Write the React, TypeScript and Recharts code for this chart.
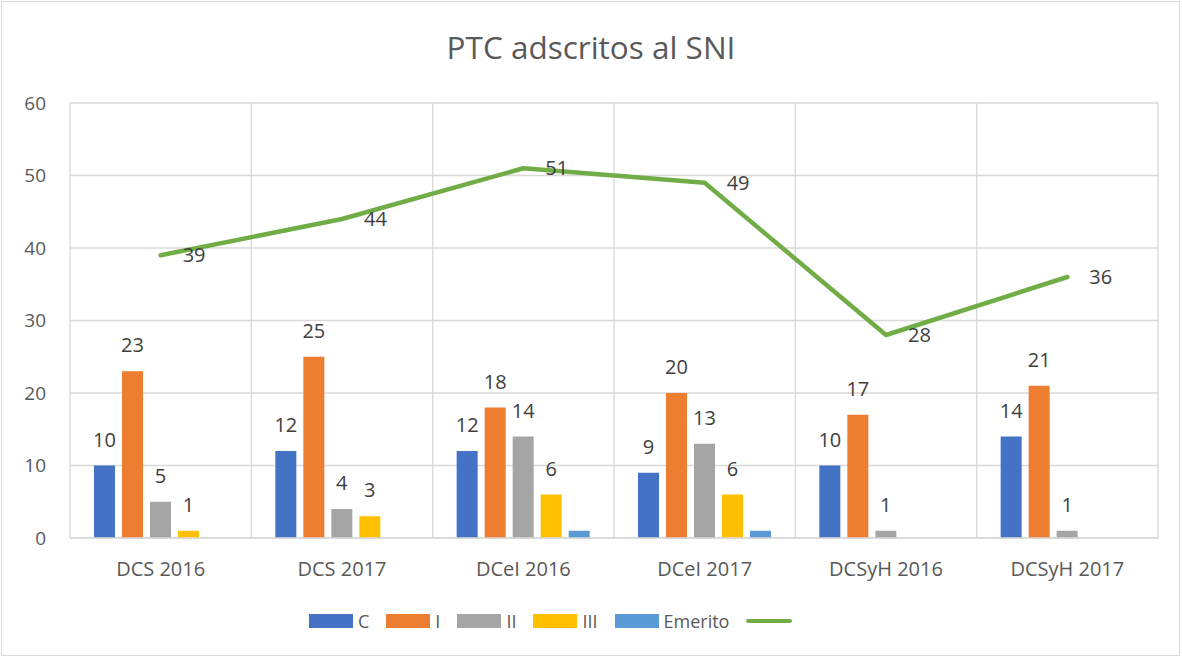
import React from 'react';
import { ComposedChart, Bar, Line, XAxis, YAxis, CartesianGrid, Legend, LabelList } from 'recharts';

const categories = ['DCS 2016', 'DCS 2017', 'DCeI 2016', 'DCeI 2017', 'DCSyH 2016', 'DCSyH 2017'];
const seriesC = [10, 12, 12, 9, 10, 14];
const seriesI = [23, 25, 18, 20, 17, 21];
const seriesII = [5, 4, 14, 13, 1, 1];
const seriesIII = [1, 3, 6, 6, 0, 0];
const seriesEmerito = [0, 0, 1, 1, 0, 0];
const totals = [39, 44, 51, 49, 28, 36];
const yTicks = [0, 10, 20, 30, 40, 50, 60];
const legendOrder = ['C', 'I', 'II', 'III', 'Emerito', 'total'];

const data = categories.map((name, i) => ({
  name,
  C: seriesC[i],
  I: seriesI[i],
  II: seriesII[i],
  III: seriesIII[i],
  Emerito: seriesEmerito[i],
  total: totals[i],
}));

const FONT = '"Open Sans", sans-serif';
const TXT = '#595959';
const LBL = '#404040';

const hideZero = (v: any) => (v === 0 ? '' : v);

const renderLegend = (props: any) => {
  const payload = [...(props.payload || [])].sort(
    (a: any, b: any) => legendOrder.indexOf(a.dataKey) - legendOrder.indexOf(b.dataKey)
  );
  return (
    <div style={{ display: 'flex', alignItems: 'center', paddingLeft: 299, height: 40, fontFamily: FONT, fontSize: 18, color: TXT }}>
      {payload.map((p: any, i: number) => (
        <div key={i} style={{ display: 'flex', alignItems: 'center', marginRight: 17 }}>
          {p.type === 'line' ? (
            <div style={{ width: 46, height: 4, borderRadius: 2, background: p.color }} />
          ) : (
            <div style={{ width: 44, height: 14, background: p.color }} />
          )}
          {p.value ? <span style={{ marginLeft: 5 }}>{p.value}</span> : null}
        </div>
      ))}
    </div>
  );
};

export default function App() {
  return (
    <div style={{ position: 'absolute', left: 0, top: 0, width: 1182, height: 658, background: '#fff' }}>
      <div style={{ position: 'absolute', left: 1, top: 1, width: 1177, height: 653, border: '1px solid #d9d9d9' }} />
      <div style={{ position: 'absolute', left: 0, top: 25, width: 1182, textAlign: 'center', fontFamily: FONT, fontSize: 31.5, color: TXT }}>
        PTC adscritos al SNI
      </div>
      <div style={{ position: 'absolute', left: 0, top: 0 }}>
        <ComposedChart
          width={1182}
          height={658}
          data={data}
          margin={{ top: 103, right: 24, left: 10, bottom: 17 }}
          barCategoryGap={24}
          barGap={7}
        >
          <CartesianGrid
            stroke="#d9d9d9"
            strokeWidth={1.3}
            verticalCoordinatesGenerator={(args: any) => {
              const off = args.offset || {};
              const left = off.left ?? 70;
              const w = off.width ?? 1088;
              return categories.map((_, i) => left + (i * w) / categories.length).concat([left + w]);
            }}
          />
          <XAxis
            dataKey="name"
            height={63}
            axisLine={{ stroke: '#d9d9d9', strokeWidth: 1.3 }}
            tickLine={false}
            tickSize={0}
            tickMargin={24}
            tick={{ fontFamily: FONT, fontSize: 20, fill: TXT }}
          />
          <YAxis
            width={60}
            domain={[0, 60]}
            ticks={yTicks}
            axisLine={false}
            tickLine={false}
            tickSize={0}
            tickMargin={24}
            tick={{ fontFamily: FONT, fontSize: 19, fill: TXT }}
          />
          <Legend verticalAlign="bottom" content={renderLegend} wrapperStyle={{ height: 40 }} />
          <Bar dataKey="C" name="C" fill="#4472C4" isAnimationActive={false}>
            <LabelList dataKey="C" position="top" offset={19} formatter={hideZero} style={{ fontFamily: FONT, fontSize: 20, fill: LBL }} />
          </Bar>
          <Bar dataKey="I" name="I" fill="#ED7D31" isAnimationActive={false}>
            <LabelList dataKey="I" position="top" offset={19} formatter={hideZero} style={{ fontFamily: FONT, fontSize: 20, fill: LBL }} />
          </Bar>
          <Bar dataKey="II" name="II" fill="#A5A5A5" isAnimationActive={false}>
            <LabelList dataKey="II" position="top" offset={19} formatter={hideZero} style={{ fontFamily: FONT, fontSize: 20, fill: LBL }} />
          </Bar>
          <Bar dataKey="III" name="III" fill="#FFC000" isAnimationActive={false}>
            <LabelList dataKey="III" position="top" offset={19} formatter={hideZero} style={{ fontFamily: FONT, fontSize: 20, fill: LBL }} />
          </Bar>
          <Bar dataKey="Emerito" name="Emerito" fill="#5B9BD5" isAnimationActive={false} />
          <Line
            dataKey="total"
            name=""
            stroke="#70AD47"
            strokeWidth={4.5}
            strokeLinecap="round"
            strokeLinejoin="round"
            dot={false}
            activeDot={false}
            isAnimationActive={false}
          >
            <LabelList dataKey="total" position="right" offset={22} style={{ fontFamily: FONT, fontSize: 20, fill: LBL }} />
          </Line>
        </ComposedChart>
      </div>
    </div>
  );
}
